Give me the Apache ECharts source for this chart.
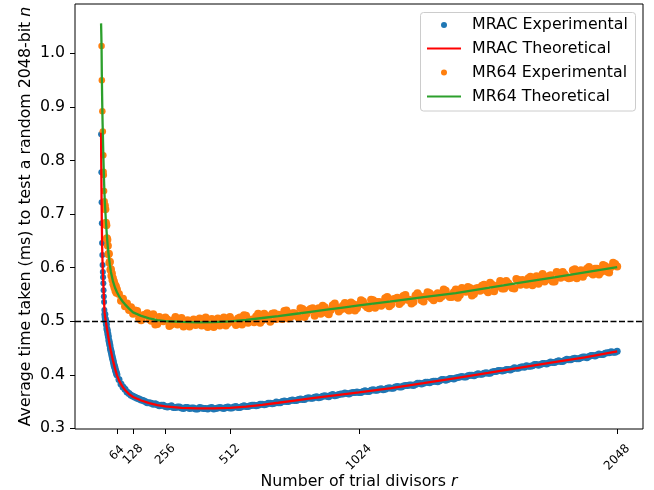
<!DOCTYPE html>
<html>
<head>
<meta charset="utf-8">
<script src="https://cdn.jsdelivr.net/npm/echarts@6/dist/echarts.min.js"></script>
<style>html,body{margin:0;padding:0;background:#fff}#c{width:654px;height:490px}</style>
</head>
<body>
<div id="c"></div>
<script>
// ---- data ----
const seriesNames = ['MRAC Experimental', 'MRAC Theoretical', 'MR64 Experimental', 'MR64 Theoretical'];
const xTickValues = [64, 128, 256, 512, 1024, 2048];
const yTickValues = [0.3, 0.4, 0.5, 0.6, 0.7, 0.8, 0.9, 1.0];
const baselineValue = 0.498;

// theoretical curves (shared r)
const theoryR = [1,2,3,4,5,6,7,8,9,10,11,12,13,14,15,16,20,24,28,32,36,40,48,56,64,72,80,88,96,112,128,160,192,224,256,320,384,448,512,576,640,704,768,832,896,960,1024,1152,1280,1408,1536,1664,1792,1920,2048];
const mracTheoryV = [0.852,0.780,0.724,0.684,0.647,0.624,0.606,0.592,0.582,0.571,0.558,0.546,0.536,0.525,0.516,0.512,0.499,0.487,0.4755,0.4645,0.454,0.4445,0.427,0.412,0.399,0.3895,0.3825,0.3765,0.3715,0.364,0.3585,0.3520,0.3470,0.3435,0.3410,0.3383,0.3372,0.3373,0.3383,0.3405,0.3440,0.3478,0.3518,0.3558,0.3598,0.3635,0.3670,0.3750,0.3843,0.3939,0.4035,0.4135,0.4230,0.4325,0.4435];
const mr64TheoryV = [1.056,1.035,1.008,0.960,0.925,0.895,0.870,0.852,0.830,0.810,0.792,0.775,0.759,0.745,0.733,0.722,0.688,0.660,0.637,0.620,0.605,0.592,0.575,0.563,0.554,0.547,0.541,0.536,0.5315,0.5235,0.5165,0.5100,0.5055,0.5022,0.5002,0.4986,0.4980,0.4984,0.4998,0.5025,0.5060,0.5095,0.5135,0.5175,0.5215,0.5255,0.5295,0.5372,0.5449,0.5525,0.5622,0.5719,0.5816,0.5913,0.6010];

// experimental, first few trial-divisor counts
const mracEarlyR = [1,2,3,4,5,6,7,8,9,10,11,12,13,14,15];
const mracEarlyV = [0.849,0.778,0.722,0.683,0.646,0.6235,0.605,0.592,0.582,0.571,0.558,0.546,0.536,0.521,0.508];
const mr64EarlyR = [3,4,6,8,10,11,12,13,15];
const mr64EarlyV = [1.014,0.950,0.892,0.854,0.810,0.779,0.773,0.743,0.724];

// experimental, r = 16 ... 2048 (set A)
const expR = [16,18,20,22,24,26,28,30,32,34,36,38,40,42,44,46,48,50,52,54,56,58,60,62,64,
72,80,88,96,104,112,120,
128,144,160,176,192,208,224,240,256,272,288,304,320,336,352,368,384,400,416,432,448,464,480,496,512,528,544,560,576,592,608,624,640,656,672,688,704,720,736,752,768,784,800,816,832,848,864,880,896,912,928,944,960,976,992,1008,1024,1040,1056,1072,1088,1104,1120,1136,1152,1168,1184,1200,1216,1232,1248,1264,1280,1296,1312,1328,1344,1360,1376,1392,1408,1424,1440,1456,1472,1488,1504,1520,1536,1552,1568,1584,1600,1616,1632,1648,1664,1680,1696,1712,1728,1744,1760,1776,1792,1808,1824,1840,1856,1872,1888,1904,1920,1936,1952,1968,1984,2000,2016,2032,2048];
const mracExpV = [0.513,0.504,0.500,0.494,0.486,0.482,0.476,0.471,0.464,0.460,0.455,0.449,0.445,0.441,0.436,0.432,0.428,0.424,0.419,0.416,0.413,0.409,0.406,0.403,0.400,
0.391,0.383,0.377,0.373,0.368,0.365,0.362,
0.360,0.356,0.353,0.350,0.348,0.345,0.344,0.343,0.341,0.341,
0.339,0.340,0.338,0.339,0.337,0.338,0.336,0.338,0.337,0.338,
0.336,0.338,0.338,0.339,0.338,0.340,0.339,0.341,0.341,0.342,
0.343,0.343,0.345,0.345,0.347,0.347,0.348,0.350,0.350,0.352,
0.352,0.354,0.354,0.356,0.356,0.358,0.357,0.360,0.360,0.362,
0.361,0.363,0.364,0.365,0.366,0.367,0.367,0.369,0.369,0.371,
0.371,0.373,0.372,0.375,0.375,0.377,0.377,0.379,0.380,0.381,
0.382,0.384,0.384,0.386,0.387,0.388,0.389,0.391,0.391,0.393,
0.394,0.396,0.396,0.398,0.399,0.400,0.401,0.403,0.403,0.405,
0.406,0.408,0.408,0.410,0.411,0.412,0.414,0.414,0.416,0.417,
0.419,0.419,0.421,0.422,0.423,0.425,0.425,0.427,0.428,0.430,
0.430,0.432,0.433,0.434,0.436,0.437,0.438,0.440,0.441,0.442,0.444];
const mr64ExpV = [0.716,0.709,0.684,0.679,0.655,0.652,0.641,0.625,0.626,0.609,0.611,0.596,0.597,0.585,0.589,0.577,0.580,0.569,0.574,0.563,0.568,0.557,0.565,0.553,0.559,
0.551,0.538,0.542,0.528,0.533,0.521,0.526,
0.514,0.519,0.502,0.512,0.504,0.513,0.495,0.502,0.507,0.491,
0.502,0.494,0.506,0.497,0.490,0.503,0.500,0.492,0.507,0.494,
0.489,0.505,0.500,0.492,0.508,0.498,0.505,0.494,0.510,0.501,
0.498,0.514,0.502,0.510,0.499,0.515,0.512,0.504,0.520,0.508,
0.515,0.507,0.523,0.514,0.523,0.510,0.524,0.529,0.516,0.521,
0.533,0.518,0.529,0.523,0.535,0.520,0.531,0.537,0.526,0.540,
0.525,0.536,0.532,0.545,0.531,0.542,0.532,0.547,0.540,0.533,
0.548,0.547,0.537,0.554,0.543,0.549,0.543,0.559,0.549,0.545,
0.559,0.549,0.559,0.564,0.548,0.561,0.557,0.568,0.554,0.568,
0.564,0.575,0.561,0.571,0.562,0.579,0.568,0.571,0.580,0.567,
0.584,0.579,0.574,0.584,0.574,0.592,0.581,0.587,0.580,0.595,
0.580,0.595,0.589,0.601,0.587,0.598,0.592,0.603,0.591,0.609,0.602];

// experimental, r = 136 ... 2040 (set B, in between set A)
const expR2 = [136,152,168,184,200,216,232,248,264,280,296,312,328,344,360,376,392,408,424,440,456,472,488,504,520,536,552,568,584,600,616,632,648,664,680,696,712,728,744,760,776,792,808,824,840,856,872,888,904,920,936,952,968,984,1000,1016,1032,1048,1064,1080,1096,1112,1128,1144,1160,1176,1192,1208,1224,1240,1256,1272,1288,1304,1320,1336,1352,1368,1384,1400,1416,1432,1448,1464,1480,1496,1512,1528,1544,1560,1576,1592,1608,1624,1640,1656,1672,1688,1704,1720,1736,1752,1768,1784,1800,1816,1832,1848,1864,1880,1896,1912,1928,1944,1960,1976,1992,2008,2024,2040];
const mracExpV2 = [0.358,0.355,0.352,0.348,0.347,0.346,0.342,0.343,0.340,0.342,
0.339,0.340,0.337,0.339,0.338,0.336,0.339,0.337,0.336,0.339,
0.337,0.339,0.337,0.340,0.338,0.341,0.339,0.342,0.341,0.343,
0.342,0.345,0.344,0.347,0.346,0.349,0.348,0.351,0.350,0.353,
0.352,0.355,0.354,0.357,0.356,0.359,0.358,0.361,0.359,0.363,
0.362,0.364,0.366,0.364,0.367,0.368,0.367,0.370,0.369,0.372,
0.371,0.374,0.373,0.376,0.375,0.378,0.377,0.380,0.381,0.380,
0.384,0.383,0.386,0.385,0.388,0.387,0.391,0.390,0.393,0.392,
0.395,0.397,0.396,0.399,0.398,0.402,0.401,0.404,0.403,0.406,
0.408,0.407,0.410,0.409,0.413,0.412,0.415,0.417,0.416,0.419,
0.418,0.421,0.420,0.424,0.423,0.426,0.425,0.429,0.428,0.431,
0.430,0.433,0.432,0.436,0.435,0.439,0.438,0.441,0.443,0.442];
const mr64ExpV2 = [0.520,0.505,0.511,0.515,0.501,0.494,0.508,0.500,0.503,0.494,
0.508,0.496,0.490,0.502,0.499,0.493,0.505,0.496,0.489,0.504,
0.501,0.492,0.507,0.496,0.502,0.493,0.507,0.511,0.497,0.503,
0.509,0.497,0.514,0.504,0.514,0.504,0.511,0.519,0.505,0.515,
0.510,0.524,0.508,0.520,0.524,0.517,0.514,0.526,0.513,0.530,
0.525,0.522,0.534,0.520,0.532,0.524,0.539,0.530,0.524,0.539,
0.536,0.529,0.543,0.528,0.541,0.544,0.536,0.549,0.540,0.536,
0.552,0.539,0.546,0.552,0.539,0.552,0.546,0.557,0.545,0.554,
0.544,0.562,0.555,0.562,0.551,0.562,0.566,0.558,0.572,0.556,
0.567,0.561,0.575,0.566,0.561,0.577,0.577,0.568,0.583,0.575,
0.570,0.588,0.578,0.586,0.574,0.586,0.592,0.582,0.581,0.597,
0.590,0.583,0.598,0.590,0.598,0.587,0.605,0.593,0.601,0.607];

// ---- build ----
function zip(xs, ys) { const n = Math.min(xs.length, ys.length); const out = []; for (let i = 0; i < n; i++) out.push([xs[i], ys[i]]); return out; }
const mracExpData = zip(mracEarlyR, mracEarlyV).concat(zip(expR, mracExpV), zip(expR2, mracExpV2));
const mr64ExpData = zip(mr64EarlyR, mr64EarlyV).concat(zip(expR, mr64ExpV), zip(expR2, mr64ExpV2));
const mracTheoryData = zip(theoryR, mracTheoryV);
const mr64TheoryData = zip(theoryR, mr64TheoryV);

const FF = 'DejaVu Sans';
const FS = 15.8;
const XFS = 12;
const colors = ['#1f77b4', '#ff0000', '#ff7f0e', '#2ca02c'];
const X_MIN = -102.4, X_MAX = 2150.4;

const chart = echarts.init(document.getElementById('c'), null, { renderer: 'canvas' });
const rowY = [25, 48.5, 72.5, 96.5];
const legends = seriesNames.map((name, i) => {
  const isDot = i % 2 === 0;
  return {
    data: [isDot ? { name: name, icon: 'circle' } : { name: name, itemStyle: { opacity: 0 } }],
    left: isDot ? 441 : 426, top: rowY[i] - 9, padding: 0,
    itemWidth: 34, itemHeight: isDot ? 6 : 14,
    selectedMode: false,
    textStyle: { fontFamily: FF, fontSize: FS, color: '#000', lineHeight: 18, padding: [0, 0, 0, 6] }
  };
});

// tick labels grouped by label length so that each group sits like matplotlib's rotated labels
function labelAxis(values, margin, withTicks, extra) {
  return Object.assign({
    type: 'value', min: X_MIN, max: X_MAX, position: 'bottom', gridIndex: 0,
    splitLine: { show: false },
    axisLine: { show: false, onZero: false },
    axisTick: withTicks
      ? { show: true, customValues: xTickValues, length: 5, lineStyle: { color: '#000', width: 1 } }
      : { show: false },
    axisLabel: {
      customValues: values, rotate: 45, align: 'center', verticalAlign: 'middle', margin: margin,
      fontFamily: FF, fontSize: XFS, color: '#000', hideOverlap: false,
      formatter: v => String(v)
    }
  }, extra || {});
}
const lab2 = xTickValues.filter(v => String(v).length === 2);
const lab3 = xTickValues.filter(v => String(v).length === 3);
const lab4 = xTickValues.filter(v => String(v).length === 4);

chart.setOption({
  animation: false,
  backgroundColor: '#fff',
  grid: { left: 75, top: 4, width: 568, height: 425, show: true, borderColor: '#000', borderWidth: 1, containLabel: false, outerBoundsMode: 'none' },
  legend: legends,
  graphic: [{
    type: 'rect', z: 0, silent: true,
    shape: { x: 420.5, y: 12.5, width: 215, height: 98.5, r: 3 },
    style: { fill: 'rgba(255,255,255,0.8)', stroke: '#cccccc', lineWidth: 1 }
  }],
  xAxis: [
    labelAxis(lab2, 24, true, {
      name: '{t|Number of trial divisors }{i|r}',
      nameLocation: 'middle', nameGap: 44.5, nameMoveOverlap: false,
      nameTextStyle: {
        fontFamily: FF, fontSize: FS, color: '#000',
        rich: { t: { fontFamily: FF, fontSize: FS, color: '#000' }, i: { fontFamily: FF, fontSize: FS, color: '#000', fontStyle: 'italic' } }
      }
    }),
    labelAxis(lab3, 25.5, false),
    labelAxis(lab4, 28.5, false)
  ],
  yAxis: {
    type: 'value', min: 0.2988, max: 1.0922,
    splitLine: { show: false },
    axisLine: { show: false, onZero: false },
    axisTick: { show: true, customValues: yTickValues, length: 5, lineStyle: { color: '#000', width: 1 } },
    axisLabel: { customValues: yTickValues, margin: 10, fontFamily: FF, fontSize: FS, color: '#000', formatter: v => v.toFixed(1) },
    name: '{t|Average time taken (ms) to test a random 2048-bit }{i|n}',
    nameLocation: 'middle', nameRotate: 90, nameGap: 41, nameMoveOverlap: false,
    nameTextStyle: {
      fontFamily: FF, fontSize: FS, color: '#000',
      rich: { t: { fontFamily: FF, fontSize: FS, color: '#000' }, i: { fontFamily: FF, fontSize: FS, color: '#000', fontStyle: 'italic' } }
    }
  },
  series: [
    {
      name: seriesNames[0], type: 'scatter', data: mracExpData, xAxisIndex: 0,
      symbol: 'circle',
      symbolSize: (val, p) => p.dataIndex < mracEarlyR.length ? 6 : 7,
      itemStyle: { color: colors[0], opacity: 1 }
    },
    {
      name: seriesNames[1], type: 'line', data: mracTheoryData, xAxisIndex: 0,
      symbol: 'none', showSymbol: false,
      lineStyle: { color: colors[1], width: 2.3 }, itemStyle: { color: colors[1] }
    },
    {
      name: seriesNames[2], type: 'scatter', data: mr64ExpData, xAxisIndex: 0,
      symbol: 'circle',
      symbolSize: (val, p) => p.dataIndex < mr64EarlyR.length ? 6.5 : 8,
      itemStyle: { color: colors[2], opacity: 1 }
    },
    {
      name: seriesNames[3], type: 'line', data: mr64TheoryData, xAxisIndex: 0,
      symbol: 'none', showSymbol: false,
      lineStyle: { color: colors[3], width: 2.3 }, itemStyle: { color: colors[3] },
      markLine: {
        silent: true, symbol: ['none', 'none'], label: { show: false },
        lineStyle: { color: '#000', type: [6, 2.5], width: 1.4 },
        data: [{ yAxis: baselineValue }]
      }
    }
  ]
});
</script>
</body>
</html>
